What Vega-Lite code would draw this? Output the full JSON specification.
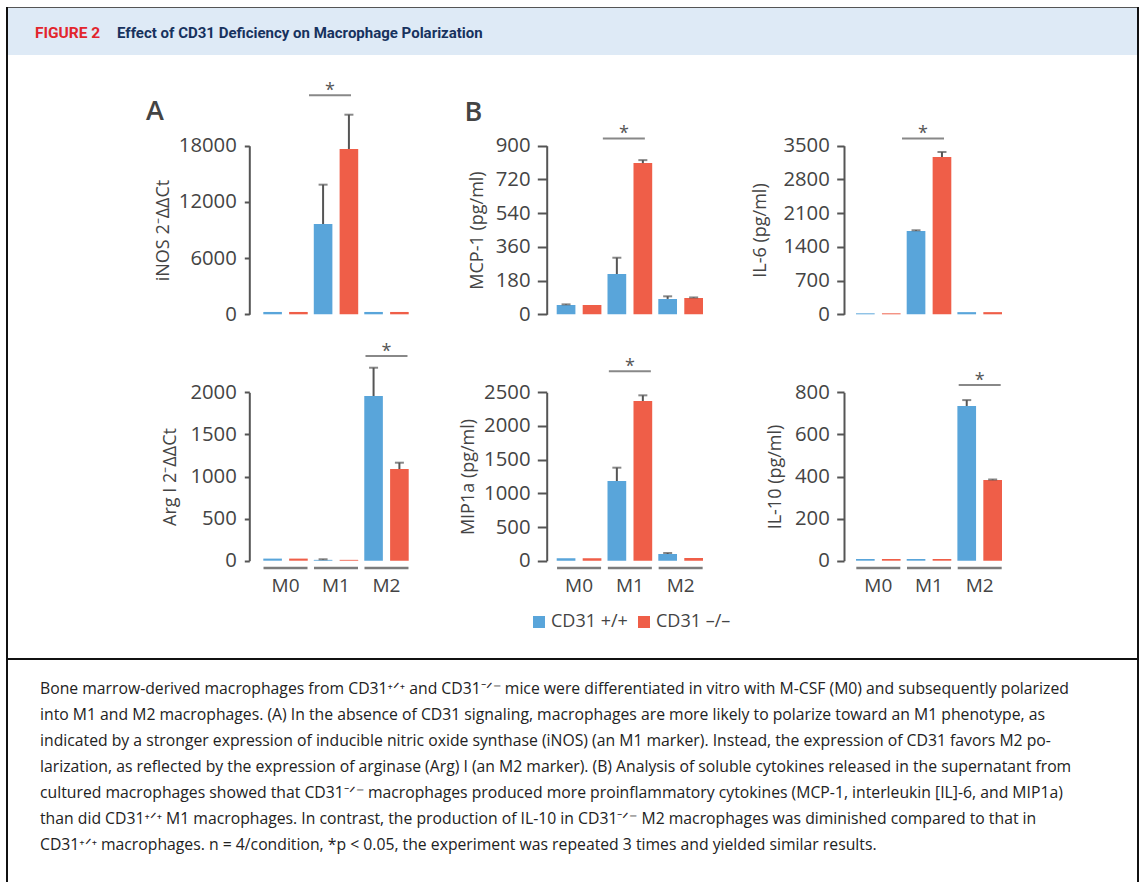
{
  "$schema": "https://vega.github.io/schema/vega-lite/v6.json",
  "padding": {"left": 6, "top": 7, "right": 3, "bottom": 0},
  "background": "white",
  "config": {
    "view": {"stroke": null},
    "font": "Open Sans",
    "axis": {"domainColor": "#555", "domainWidth": 2, "tickColor": "#555", "tickWidth": 2, "labelFont": "Open Sans", "labelFontSize": 20.3, "labelColor": "#444", "titleFont": "Open Sans", "titleFontSize": 18, "titleFontWeight": "normal", "titleColor": "#444", "grid": false, "labelOverlap": false},
    "axisX": {"labelFontSize": 19},
    "title": {"font": "Open Sans", "color": "#444"}
  },
  "datasets": {
    "bars": [
      {"panel": "iNOS", "group": "M0", "genotype": "CD31 +/+", "mean": 250, "upper": null},
      {"panel": "iNOS", "group": "M0", "genotype": "CD31 –/–", "mean": 250, "upper": null},
      {"panel": "iNOS", "group": "M1", "genotype": "CD31 +/+", "mean": 9640, "upper": 13840},
      {"panel": "iNOS", "group": "M1", "genotype": "CD31 –/–", "mean": 17650, "upper": 21310},
      {"panel": "iNOS", "group": "M2", "genotype": "CD31 +/+", "mean": 250, "upper": null},
      {"panel": "iNOS", "group": "M2", "genotype": "CD31 –/–", "mean": 250, "upper": null},
      {"panel": "MCP", "group": "M0", "genotype": "CD31 +/+", "mean": 50, "upper": 53},
      {"panel": "MCP", "group": "M0", "genotype": "CD31 –/–", "mean": 50, "upper": null},
      {"panel": "MCP", "group": "M1", "genotype": "CD31 +/+", "mean": 215, "upper": 302},
      {"panel": "MCP", "group": "M1", "genotype": "CD31 –/–", "mean": 807, "upper": 823},
      {"panel": "MCP", "group": "M2", "genotype": "CD31 +/+", "mean": 82, "upper": 96},
      {"panel": "MCP", "group": "M2", "genotype": "CD31 –/–", "mean": 87, "upper": 90},
      {"panel": "IL6", "group": "M0", "genotype": "CD31 +/+", "mean": 20, "upper": null},
      {"panel": "IL6", "group": "M0", "genotype": "CD31 –/–", "mean": 20, "upper": null},
      {"panel": "IL6", "group": "M1", "genotype": "CD31 +/+", "mean": 1729, "upper": 1744},
      {"panel": "IL6", "group": "M1", "genotype": "CD31 –/–", "mean": 3265, "upper": 3369},
      {"panel": "IL6", "group": "M2", "genotype": "CD31 +/+", "mean": 45, "upper": null},
      {"panel": "IL6", "group": "M2", "genotype": "CD31 –/–", "mean": 45, "upper": null},
      {"panel": "Arg", "group": "M0", "genotype": "CD31 +/+", "mean": 25, "upper": null},
      {"panel": "Arg", "group": "M0", "genotype": "CD31 –/–", "mean": 25, "upper": null},
      {"panel": "Arg", "group": "M1", "genotype": "CD31 +/+", "mean": 10, "upper": 17},
      {"panel": "Arg", "group": "M1", "genotype": "CD31 –/–", "mean": 10, "upper": null},
      {"panel": "Arg", "group": "M2", "genotype": "CD31 +/+", "mean": 1956, "upper": 2292},
      {"panel": "Arg", "group": "M2", "genotype": "CD31 –/–", "mean": 1089, "upper": 1164},
      {"panel": "MIP", "group": "M0", "genotype": "CD31 +/+", "mean": 35, "upper": null},
      {"panel": "MIP", "group": "M0", "genotype": "CD31 –/–", "mean": 35, "upper": null},
      {"panel": "MIP", "group": "M1", "genotype": "CD31 +/+", "mean": 1183, "upper": 1381},
      {"panel": "MIP", "group": "M1", "genotype": "CD31 –/–", "mean": 2371, "upper": 2455},
      {"panel": "MIP", "group": "M2", "genotype": "CD31 +/+", "mean": 99, "upper": 114},
      {"panel": "MIP", "group": "M2", "genotype": "CD31 –/–", "mean": 40, "upper": null},
      {"panel": "IL10", "group": "M0", "genotype": "CD31 +/+", "mean": 8, "upper": null},
      {"panel": "IL10", "group": "M0", "genotype": "CD31 –/–", "mean": 8, "upper": null},
      {"panel": "IL10", "group": "M1", "genotype": "CD31 +/+", "mean": 8, "upper": null},
      {"panel": "IL10", "group": "M1", "genotype": "CD31 –/–", "mean": 8, "upper": null},
      {"panel": "IL10", "group": "M2", "genotype": "CD31 +/+", "mean": 735, "upper": 763},
      {"panel": "IL10", "group": "M2", "genotype": "CD31 –/–", "mean": 383, "upper": 386}
    ],
    "caption": [
      {"line": 1, "text": "Bone marrow-derived macrophages from CD31⁺ᐟ⁺ and CD31⁻ᐟ⁻ mice were differentiated in vitro with M-CSF (M0) and subsequently polarized"},
      {"line": 2, "text": "into M1 and M2 macrophages. (A) In the absence of CD31 signaling, macrophages are more likely to polarize toward an M1 phenotype, as"},
      {"line": 3, "text": "indicated by a stronger expression of inducible nitric oxide synthase (iNOS) (an M1 marker). Instead, the expression of CD31 favors M2 po-"},
      {"line": 4, "text": "larization, as reflected by the expression of arginase (Arg) I (an M2 marker). (B) Analysis of soluble cytokines released in the supernatant from"},
      {"line": 5, "text": "cultured macrophages showed that CD31⁻ᐟ⁻ macrophages produced more proinflammatory cytokines (MCP-1, interleukin [IL]-6, and MIP1a)"},
      {"line": 6, "text": "than did CD31⁺ᐟ⁺ M1 macrophages. In contrast, the production of IL-10 in CD31⁻ᐟ⁻ M2 macrophages was diminished compared to that in"},
      {"line": 7, "text": "CD31⁺ᐟ⁺ macrophages. n = 4/condition, *p < 0.05, the experiment was repeated 3 times and yielded similar results."}
    ]
  },
  "spacing": 0,
  "resolve": {"scale": {"xOffset": "independent"}},
  "hconcat": [
    {"width": 2, "height": 875, "data": {"values": [{}]}, "mark": {"type": "rect", "color": "#111"}, "encoding": {}},
    {
      "spacing": 0,
      "resolve": {"scale": {"xOffset": "independent"}},
      "vconcat": [
        {"width": 1129, "height": 1, "data": {"values": [{}]}, "mark": {"type": "rect", "color": "#555"}, "encoding": {}},
        {
          "width": 1129, "height": 47,
          "data": {"values": [{}]},
          "layer": [
            {"mark": {"type": "rect", "color": "#deeaf6"}, "encoding": {}},
            {"mark": {"type": "text", "text": "FIGURE 2", "align": "left", "baseline": "alphabetic", "dx": -537.5, "dy": 6.8, "font": "Roboto", "fontSize": 15.5, "fontWeight": "bold", "color": "#e2252d"}, "encoding": {}},
            {"mark": {"type": "text", "text": "Effect of CD31 Deficiency on Macrophage Polarization", "align": "left", "baseline": "alphabetic", "dx": -455.5, "dy": 6.8, "font": "Roboto", "fontSize": 15, "fontWeight": "bold", "color": "#17325e"}, "encoding": {}}
          ]
        },
        {
          "spacing": 0,
          "resolve": {"scale": {"xOffset": "independent"}},
          "vconcat": [
            {
              "spacing": 0,
              "resolve": {"scale": {"xOffset": "independent"}},
              "hconcat": [
                {
                  "width": 422, "height": 285,
                  "title": {"text": "A", "anchor": "start", "frame": "group", "orient": "top", "offset": -92, "dx": 138, "baseline": "alphabetic", "fontSize": 27, "fontWeight": 600, "color": "#444"},
                  "encoding": {"x": {"field": "group", "type": "nominal", "scale": {"domain": ["M0", "M1", "M2"], "range": [255.3, 400.7], "paddingInner": 0.12, "paddingOuter": 0}, "axis": null}},
                  "layer": [
                    {"data": {"name": "bars"}, "transform": [{"filter": "datum.panel === 'iNOS'"}], "mark": {"type": "bar"},
                     "encoding": {
                       "xOffset": {"field": "genotype", "type": "nominal", "scale": {"domain": ["CD31 +/+", "CD31 –/–"], "paddingInner": 0.28, "paddingOuter": 0}},
                       "y": {"field": "mean", "type": "quantitative", "stack": null, "scale": {"domain": [0, 18000], "range": [259.3, 90.7], "nice": false}, "axis": {"values": [0, 6000, 12000, 18000], "format": "d", "offset": -241.3, "tickSize": 5, "labelPadding": 8, "title": "iNOS 2⁻ΔΔCt", "titlePadding": 6}},
                       "color": {"field": "genotype", "type": "nominal", "scale": {"domain": ["CD31 +/+", "CD31 –/–"], "range": ["#59a5da", "#ef5e48"]},
                         "legend": {"orient": "none", "legendX": 524, "legendY": 606, "direction": "horizontal", "title": null, "symbolType": "square", "symbolSize": 144, "symbolStrokeWidth": 0, "symbolOpacity": 1, "labelFontSize": 18, "labelFont": "Open Sans", "labelColor": "#444", "labelOffset": 3, "columnPadding": 7, "padding": 0}}
                     }},
                    {"data": {"name": "bars"}, "transform": [{"filter": "datum.panel === 'iNOS' && datum.upper != null"}], "mark": {"type": "rule", "color": "#555", "strokeWidth": 2},
                     "encoding": {"xOffset": {"field": "genotype", "type": "nominal"}, "y": {"field": "mean", "type": "quantitative"}, "y2": {"field": "upper"}}},
                    {"data": {"name": "bars"}, "transform": [{"filter": "datum.panel === 'iNOS' && datum.upper != null"}], "mark": {"type": "tick", "color": "#555", "thickness": 2, "size": 9},
                     "encoding": {"xOffset": {"field": "genotype", "type": "nominal"}, "y": {"field": "upper", "type": "quantitative"}}},
                    {"data": {"values": [{"group": "M1"}]}, "mark": {"type": "tick", "color": "#555", "thickness": 2, "size": 42, "xOffset": -6}, "encoding": {"y": {"datum": 23389}}},
                    {"data": {"values": [{"group": "M1"}]}, "mark": {"type": "text", "text": "*", "color": "#555", "fontSize": 18, "baseline": "alphabetic", "dy": 1, "xOffset": -6}, "encoding": {"y": {"datum": 23389}}}
                  ]
                },
                {
                  "width": 305, "height": 285,
                  "title": {"text": "B", "anchor": "start", "frame": "group", "orient": "top", "offset": -92.7, "dx": 34.5, "baseline": "alphabetic", "fontSize": 27, "fontWeight": 600, "color": "#444"},
                  "encoding": {"x": {"field": "group", "type": "nominal", "scale": {"domain": ["M0", "M1", "M2"], "range": [126.7, 273], "paddingInner": 0.12, "paddingOuter": 0}, "axis": null}},
                  "layer": [
                    {"data": {"name": "bars"}, "transform": [{"filter": "datum.panel === 'MCP'"}], "mark": {"type": "bar"},
                     "encoding": {
                       "xOffset": {"field": "genotype", "type": "nominal", "scale": {"domain": ["CD31 +/+", "CD31 –/–"], "paddingInner": 0.28, "paddingOuter": 0}},
                       "y": {"field": "mean", "type": "quantitative", "stack": null, "scale": {"domain": [0, 900], "range": [259.3, 90.7], "nice": false}, "axis": {"values": [0, 180, 360, 540, 720, 900], "format": "d", "offset": -116.7, "tickSize": 9.4, "labelPadding": 7.3, "title": "MCP-1 (pg/ml)", "titlePadding": 9}},
                       "color": {"field": "genotype", "type": "nominal"}
                     }},
                    {"data": {"name": "bars"}, "transform": [{"filter": "datum.panel === 'MCP' && datum.upper != null"}], "mark": {"type": "rule", "color": "#555", "strokeWidth": 2},
                     "encoding": {"xOffset": {"field": "genotype", "type": "nominal"}, "y": {"field": "mean", "type": "quantitative"}, "y2": {"field": "upper"}}},
                    {"data": {"name": "bars"}, "transform": [{"filter": "datum.panel === 'MCP' && datum.upper != null"}], "mark": {"type": "tick", "color": "#555", "thickness": 2, "size": 9},
                     "encoding": {"xOffset": {"field": "genotype", "type": "nominal"}, "y": {"field": "upper", "type": "quantitative"}}},
                    {"data": {"values": [{"group": "M1"}]}, "mark": {"type": "tick", "color": "#555", "thickness": 2, "size": 42, "xOffset": -6}, "encoding": {"y": {"datum": 939}}},
                    {"data": {"values": [{"group": "M1"}]}, "mark": {"type": "text", "text": "*", "color": "#555", "fontSize": 18, "baseline": "alphabetic", "dy": 1, "xOffset": -6}, "encoding": {"y": {"datum": 939}}}
                  ]
                },
                {
                  "width": 402, "height": 285,
                  "encoding": {"x": {"field": "group", "type": "nominal", "scale": {"domain": ["M0", "M1", "M2"], "range": [121, 267], "paddingInner": 0.12, "paddingOuter": 0}, "axis": null}},
                  "layer": [
                    {"data": {"name": "bars"}, "transform": [{"filter": "datum.panel === 'IL6'"}], "mark": {"type": "bar"},
                     "encoding": {
                       "xOffset": {"field": "genotype", "type": "nominal", "scale": {"domain": ["CD31 +/+", "CD31 –/–"], "paddingInner": 0.28, "paddingOuter": 0}},
                       "y": {"field": "mean", "type": "quantitative", "stack": null, "scale": {"domain": [0, 3500], "range": [259.3, 90.7], "nice": false}, "axis": {"values": [0, 700, 1400, 2100, 2800, 3500], "format": "d", "offset": -109, "tickSize": 7.3, "labelPadding": 7.4, "title": "IL-6 (pg/ml)", "titlePadding": 13}},
                       "color": {"field": "genotype", "type": "nominal"}
                     }},
                    {"data": {"name": "bars"}, "transform": [{"filter": "datum.panel === 'IL6' && datum.upper != null"}], "mark": {"type": "rule", "color": "#555", "strokeWidth": 2},
                     "encoding": {"xOffset": {"field": "genotype", "type": "nominal"}, "y": {"field": "mean", "type": "quantitative"}, "y2": {"field": "upper"}}},
                    {"data": {"name": "bars"}, "transform": [{"filter": "datum.panel === 'IL6' && datum.upper != null"}], "mark": {"type": "tick", "color": "#555", "thickness": 2, "size": 9},
                     "encoding": {"xOffset": {"field": "genotype", "type": "nominal"}, "y": {"field": "upper", "type": "quantitative"}}},
                    {"data": {"values": [{"group": "M1"}]}, "mark": {"type": "tick", "color": "#555", "thickness": 2, "size": 42, "xOffset": -6}, "encoding": {"y": {"datum": 3652}}},
                    {"data": {"values": [{"group": "M1"}]}, "mark": {"type": "text", "text": "*", "color": "#555", "fontSize": 18, "baseline": "alphabetic", "dy": 1, "xOffset": -6}, "encoding": {"y": {"datum": 3652}}}
                  ]
                }
              ]
            },
            {
              "spacing": 0,
              "resolve": {"scale": {"xOffset": "independent"}},
              "hconcat": [
                {
                  "width": 422, "height": 318,
                  "encoding": {"x": {"field": "group", "type": "nominal", "scale": {"domain": ["M0", "M1", "M2"], "range": [255.3, 400.7], "paddingInner": 0.12, "paddingOuter": 0}, "axis": {"orient": "bottom", "offset": -97.3, "domain": false, "ticks": false, "labelPadding": 16, "labelAngle": 0, "title": null}}},
                  "layer": [
                    {"data": {"name": "bars"}, "transform": [{"filter": "datum.panel === 'Arg'"}], "mark": {"type": "bar"},
                     "encoding": {
                       "xOffset": {"field": "genotype", "type": "nominal", "scale": {"domain": ["CD31 +/+", "CD31 –/–"], "paddingInner": 0.28, "paddingOuter": 0}},
                       "y": {"field": "mean", "type": "quantitative", "stack": null, "scale": {"domain": [0, 2000], "range": [220.7, 52.3], "nice": false}, "axis": {"values": [0, 500, 1000, 1500, 2000], "format": "d", "offset": -241.3, "tickSize": 5, "labelPadding": 8, "title": "Arg I 2⁻ΔΔCt", "titlePadding": 10}},
                       "color": {"field": "genotype", "type": "nominal"}
                     }},
                    {"data": {"name": "bars"}, "transform": [{"filter": "datum.panel === 'Arg' && datum.upper != null"}], "mark": {"type": "rule", "color": "#555", "strokeWidth": 2},
                     "encoding": {"xOffset": {"field": "genotype", "type": "nominal"}, "y": {"field": "mean", "type": "quantitative"}, "y2": {"field": "upper"}}},
                    {"data": {"name": "bars"}, "transform": [{"filter": "datum.panel === 'Arg' && datum.upper != null"}], "mark": {"type": "tick", "color": "#555", "thickness": 2, "size": 9},
                     "encoding": {"xOffset": {"field": "genotype", "type": "nominal"}, "y": {"field": "upper", "type": "quantitative"}}},
                    {"data": {"values": [{"group": "M0"}, {"group": "M1"}, {"group": "M2"}]}, "mark": {"type": "tick", "color": "#444", "thickness": 2.5, "size": 44, "yOffset": 7.3}, "encoding": {"y": {"datum": 0}}},
                    {"data": {"values": [{"group": "M2"}]}, "mark": {"type": "tick", "color": "#555", "thickness": 2, "size": 42}, "encoding": {"y": {"datum": 2431}}},
                    {"data": {"values": [{"group": "M2"}]}, "mark": {"type": "text", "text": "*", "color": "#555", "fontSize": 18, "baseline": "alphabetic", "dy": 1}, "encoding": {"y": {"datum": 2431}}}
                  ]
                },
                {
                  "width": 305, "height": 318,
                  "encoding": {"x": {"field": "group", "type": "nominal", "scale": {"domain": ["M0", "M1", "M2"], "range": [126.7, 273], "paddingInner": 0.12, "paddingOuter": 0}, "axis": {"orient": "bottom", "offset": -97.3, "domain": false, "ticks": false, "labelPadding": 16, "labelAngle": 0, "title": null}}},
                  "layer": [
                    {"data": {"name": "bars"}, "transform": [{"filter": "datum.panel === 'MIP'"}], "mark": {"type": "bar"},
                     "encoding": {
                       "xOffset": {"field": "genotype", "type": "nominal", "scale": {"domain": ["CD31 +/+", "CD31 –/–"], "paddingInner": 0.28, "paddingOuter": 0}},
                       "y": {"field": "mean", "type": "quantitative", "stack": null, "scale": {"domain": [0, 2500], "range": [220.7, 52.3], "nice": false}, "axis": {"values": [0, 500, 1000, 1500, 2000, 2500], "format": "d", "offset": -116.7, "tickSize": 9.4, "labelPadding": 7.3, "title": "MIP1a (pg/ml)", "titlePadding": 6}},
                       "color": {"field": "genotype", "type": "nominal"}
                     }},
                    {"data": {"name": "bars"}, "transform": [{"filter": "datum.panel === 'MIP' && datum.upper != null"}], "mark": {"type": "rule", "color": "#555", "strokeWidth": 2},
                     "encoding": {"xOffset": {"field": "genotype", "type": "nominal"}, "y": {"field": "mean", "type": "quantitative"}, "y2": {"field": "upper"}}},
                    {"data": {"name": "bars"}, "transform": [{"filter": "datum.panel === 'MIP' && datum.upper != null"}], "mark": {"type": "tick", "color": "#555", "thickness": 2, "size": 9},
                     "encoding": {"xOffset": {"field": "genotype", "type": "nominal"}, "y": {"field": "upper", "type": "quantitative"}}},
                    {"data": {"values": [{"group": "M0"}, {"group": "M1"}, {"group": "M2"}]}, "mark": {"type": "tick", "color": "#444", "thickness": 2.5, "size": 44, "yOffset": 7.3}, "encoding": {"y": {"datum": 0}}},
                    {"data": {"values": [{"group": "M1"}]}, "mark": {"type": "tick", "color": "#555", "thickness": 2, "size": 42}, "encoding": {"y": {"datum": 2812}}},
                    {"data": {"values": [{"group": "M1"}]}, "mark": {"type": "text", "text": "*", "color": "#555", "fontSize": 18, "baseline": "alphabetic", "dy": 1}, "encoding": {"y": {"datum": 2812}}}
                  ]
                },
                {
                  "width": 402, "height": 318,
                  "encoding": {"x": {"field": "group", "type": "nominal", "scale": {"domain": ["M0", "M1", "M2"], "range": [121, 267], "paddingInner": 0.12, "paddingOuter": 0}, "axis": {"orient": "bottom", "offset": -97.3, "domain": false, "ticks": false, "labelPadding": 16, "labelAngle": 0, "title": null}}},
                  "layer": [
                    {"data": {"name": "bars"}, "transform": [{"filter": "datum.panel === 'IL10'"}], "mark": {"type": "bar"},
                     "encoding": {
                       "xOffset": {"field": "genotype", "type": "nominal", "scale": {"domain": ["CD31 +/+", "CD31 –/–"], "paddingInner": 0.28, "paddingOuter": 0}},
                       "y": {"field": "mean", "type": "quantitative", "stack": null, "scale": {"domain": [0, 800], "range": [220.7, 52.3], "nice": false}, "axis": {"values": [0, 200, 400, 600, 800], "format": "d", "offset": -109, "tickSize": 7.3, "labelPadding": 7.4, "title": "IL-10 (pg/ml)", "titlePadding": 10}},
                       "color": {"field": "genotype", "type": "nominal"}
                     }},
                    {"data": {"name": "bars"}, "transform": [{"filter": "datum.panel === 'IL10' && datum.upper != null"}], "mark": {"type": "rule", "color": "#555", "strokeWidth": 2},
                     "encoding": {"xOffset": {"field": "genotype", "type": "nominal"}, "y": {"field": "mean", "type": "quantitative"}, "y2": {"field": "upper"}}},
                    {"data": {"name": "bars"}, "transform": [{"filter": "datum.panel === 'IL10' && datum.upper != null"}], "mark": {"type": "tick", "color": "#555", "thickness": 2, "size": 9},
                     "encoding": {"xOffset": {"field": "genotype", "type": "nominal"}, "y": {"field": "upper", "type": "quantitative"}}},
                    {"data": {"values": [{"group": "M0"}, {"group": "M1"}, {"group": "M2"}]}, "mark": {"type": "tick", "color": "#444", "thickness": 2.5, "size": 44, "yOffset": 7.3}, "encoding": {"y": {"datum": 0}}},
                    {"data": {"values": [{"group": "M2"}]}, "mark": {"type": "tick", "color": "#555", "thickness": 2, "size": 42}, "encoding": {"y": {"datum": 835}}},
                    {"data": {"values": [{"group": "M2"}]}, "mark": {"type": "text", "text": "*", "color": "#555", "fontSize": 18, "baseline": "alphabetic", "dy": 1}, "encoding": {"y": {"datum": 835}}}
                  ]
                }
              ]
            }
          ]
        },
        {"width": 1129, "height": 2, "data": {"values": [{}]}, "mark": {"type": "rect", "color": "#111"}, "encoding": {}},
        {
          "width": 1129, "height": 222,
          "data": {"name": "caption"},
          "mark": {"type": "text", "align": "left", "baseline": "middle", "dx": -532.5, "font": "Open Sans", "fontSize": 15.75, "color": "#222"},
          "encoding": {
            "y": {"field": "line", "type": "ordinal", "scale": {"type": "point", "range": [29, 185], "padding": 0}, "axis": null},
            "text": {"field": "text"}
          }
        }
      ]
    },
    {"width": 2, "height": 875, "data": {"values": [{}]}, "mark": {"type": "rect", "color": "#111"}, "encoding": {}}
  ]
}
